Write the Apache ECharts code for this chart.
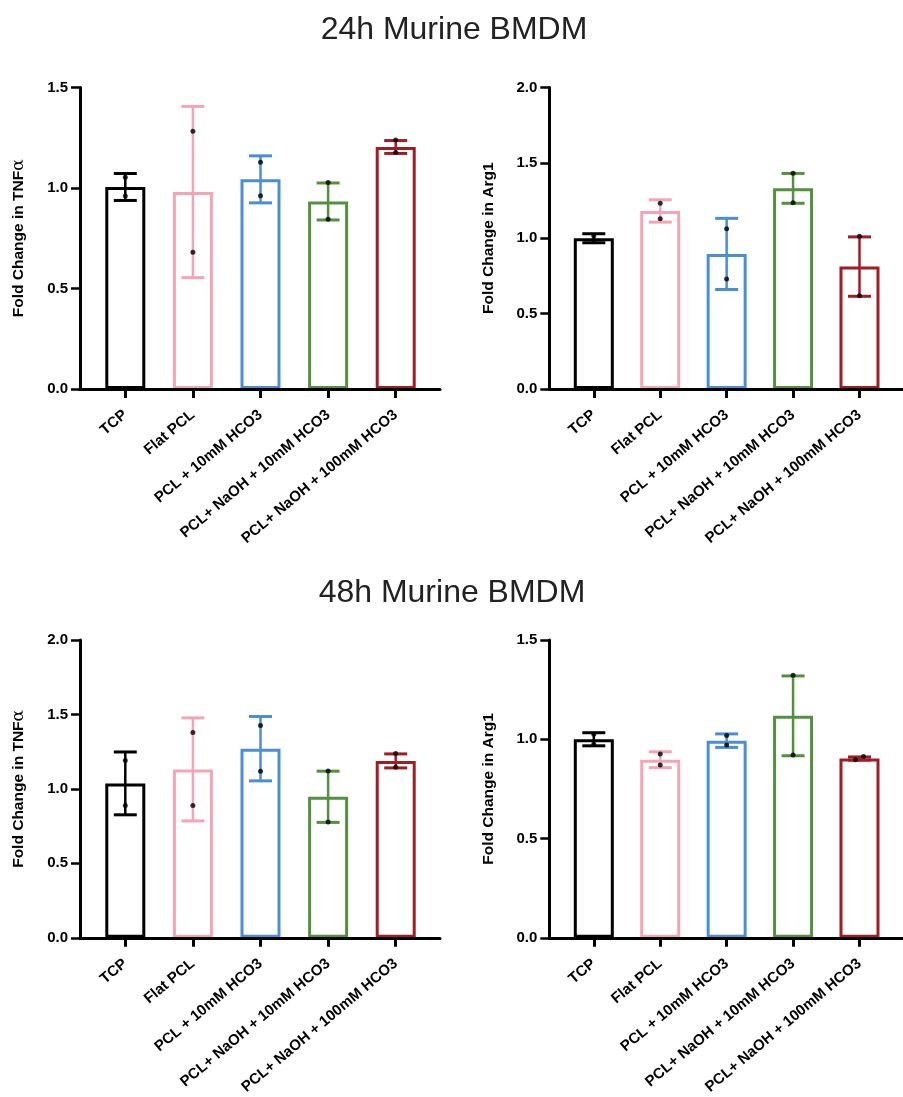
<!DOCTYPE html>
<html><head><meta charset="utf-8">
<script src="https://cdn.jsdelivr.net/npm/echarts@6/dist/echarts.min.js"></script>
<style>html,body{margin:0;padding:0;background:#fff;overflow:hidden}#c{width:903px;height:1097px}</style>
</head><body><div id="c"></div>
<script>
// ---------- data ----------
const categories = ['TCP', 'Flat PCL', 'PCL + 10mM HCO3', 'PCL+ NaOH + 10mM HCO3', 'PCL+ NaOH + 100mM HCO3'];
const titles = ['24h Murine BMDM', '48h Murine BMDM'];

// 24h TNFα
const tnf24Mean = [1.005, 0.980, 1.043, 0.933, 1.204];
const tnf24Err  = [0.067, 0.426, 0.117, 0.092, 0.032];
const tnf24Rep1 = [1.053, 1.282, 1.128, 1.027, 1.239];
const tnf24Rep2 = [0.960, 0.680, 0.962, 0.844, 1.176];

// 24h Arg1
const arg24Mean = [1.000, 1.181, 0.896, 1.331, 0.812];
const arg24Err  = [0.030, 0.074, 0.236, 0.099, 0.197];
const arg24Rep1 = [1.017, 1.233, 1.063, 1.432, 1.013];
const arg24Rep2 = [0.985, 1.129, 0.729, 1.235, 0.619];

// 48h TNFα
const tnf48Mean = [1.037, 1.131, 1.270, 0.947, 1.188];
const tnf48Err  = [0.211, 0.346, 0.216, 0.172, 0.047];
const tnf48Rep1 = [1.190, 1.379, 1.426, 1.121, 1.238];
const tnf48Rep2 = [0.889, 0.889, 1.119, 0.778, 1.145];

// 48h Arg1
const arg48Mean = [1.000, 0.897, 0.993, 1.118, 0.903];
const arg48Err  = [0.033, 0.040, 0.034, 0.201, 0.008];
const arg48Rep1 = [1.025, 0.926, 1.019, 1.323, 0.897];
const arg48Rep2 = [0.975, 0.871, 0.971, 0.921, 0.913];

const yMax = [1.5, 2.0, 2.0, 1.5];
const yNames = ['Fold Change in TNF{a|α}', 'Fold Change in Arg1', 'Fold Change in TNF{a|α}', 'Fold Change in Arg1'];

// ---------- styling ----------
const colors = ['#000000', '#f3a5b5', '#4a8fd3', '#54913f', '#9f1d23'];
const FONT = 'Liberation Sans, Arial, Helvetica, sans-serif';
const layout = [
  {left: 80,    top: 87.5, height: 301.5},
  {left: 549.3, top: 87.5, height: 301.5},
  {left: 80,    top: 640,  height: 301.7},
  {left: 549.3, top: 640,  height: 301.7}
];
const panels = [
  {mean: tnf24Mean, err: tnf24Err, r1: tnf24Rep1, r2: tnf24Rep2},
  {mean: arg24Mean, err: arg24Err, r1: arg24Rep1, r2: arg24Rep2},
  {mean: tnf48Mean, err: tnf48Err, r1: tnf48Rep1, r2: tnf48Rep2},
  {mean: arg48Mean, err: arg48Err, r1: arg48Rep1, r2: arg48Rep2}
];
const idx = categories.map((_, i) => i);

const grid = [], xAxis = [], yAxis = [], series = [];
panels.forEach((p, k) => {
  grid.push({left: layout[k].left, top: layout[k].top, width: 360, height: layout[k].height, containLabel: false});
  xAxis.push({
    type: 'value', gridIndex: k, min: -0.67, max: 4.655, z: 10,
    splitLine: {show: false},
    axisLine: {show: true, onZero: false, lineStyle: {color: '#000', width: 3}},
    axisTick: {show: true, customValues: idx, length: 9, lineStyle: {color: '#000', width: 3}},
    axisLabel: {customValues: idx, formatter: v => categories[Math.round(v)], rotate: 40, margin: 24,
      fontSize: 15, fontWeight: 'bold', color: '#000', fontFamily: FONT}
  });
  yAxis.push({
    type: 'value', gridIndex: k, min: 0, max: yMax[k], interval: 0.5, z: 10,
    splitLine: {show: false},
    axisLine: {show: true, onZero: false, lineStyle: {color: '#000', width: 3}},
    axisTick: {show: true, length: 9, lineStyle: {color: '#000', width: 2.5}},
    axisLabel: {formatter: v => v.toFixed(1), fontSize: 15, fontWeight: 'bold', color: '#000', margin: 12, fontFamily: FONT},
    name: yNames[k], nameLocation: 'middle', nameGap: 53, nameRotate: 90,
    nameTextStyle: {fontSize: 15.5, fontWeight: 'bold', color: '#000', fontFamily: FONT,
      rich: {a: {fontSize: 17, fontWeight: 'normal', fontFamily: 'DejaVu Serif', color: '#000'}}}
  });
  series.push({
    type: 'bar', xAxisIndex: k, yAxisIndex: k, barWidth: 40, z: 2,
    itemStyle: {color: 'rgba(255,255,255,0)', borderWidth: 3},
    data: p.mean.map((m, j) => ({value: [j, m], itemStyle: {borderColor: colors[j]}}))
  });
  series.push({
    type: 'custom', xAxisIndex: k, yAxisIndex: k, z: 3,
    encode: {x: 0, y: [1, 2]},
    data: p.mean.map((m, j) => [j, m - p.err[j], m + p.err[j]]),
    renderItem: (params, api) => {
      const x = api.value(0);
      const a = api.coord([x, api.value(2)]), b = api.coord([x, api.value(1)]);
      const c = colors[params.dataIndex], hw = 11.5;
      const st = {stroke: c, lineWidth: 2.5};
      return {type: 'group', children: [
        {type: 'line', shape: {x1: a[0], y1: a[1], x2: b[0], y2: b[1]}, style: st},
        {type: 'line', shape: {x1: a[0] - hw, y1: a[1], x2: a[0] + hw, y2: a[1]}, style: {stroke: c, lineWidth: 3}},
        {type: 'line', shape: {x1: b[0] - hw, y1: b[1], x2: b[0] + hw, y2: b[1]}, style: {stroke: c, lineWidth: 3}}
      ]};
    }
  });
  const pts = [];
  idx.forEach(j => {
    const lo = Math.min(p.r1[j], p.r2[j]), hi = Math.max(p.r1[j], p.r2[j]);
    const close = (hi - lo) / yMax[k] < 0.015; // nearly overlapping replicates are nudged apart
    pts.push([close ? j - 0.06 : j, lo]);
    pts.push([close ? j + 0.06 : j, hi]);
  });
  series.push({
    type: 'scatter', xAxisIndex: k, yAxisIndex: k, z: 5, symbolSize: 5,
    itemStyle: {color: '#000'}, data: pts
  });
});

const chart = echarts.init(document.getElementById('c'), null, {renderer: 'canvas'});
chart.setOption({
  backgroundColor: '#fff',
  animation: false,
  title: [
    {text: titles[0], left: 454, textAlign: 'center', top: 14.5, padding: 0,
     textStyle: {fontSize: 32, fontWeight: 'normal', color: '#222', fontFamily: FONT}},
    {text: titles[1], left: 452, textAlign: 'center', top: 577, padding: 0,
     textStyle: {fontSize: 32, fontWeight: 'normal', color: '#222', fontFamily: FONT}}
  ],
  grid, xAxis, yAxis, series
});
</script></body></html>
